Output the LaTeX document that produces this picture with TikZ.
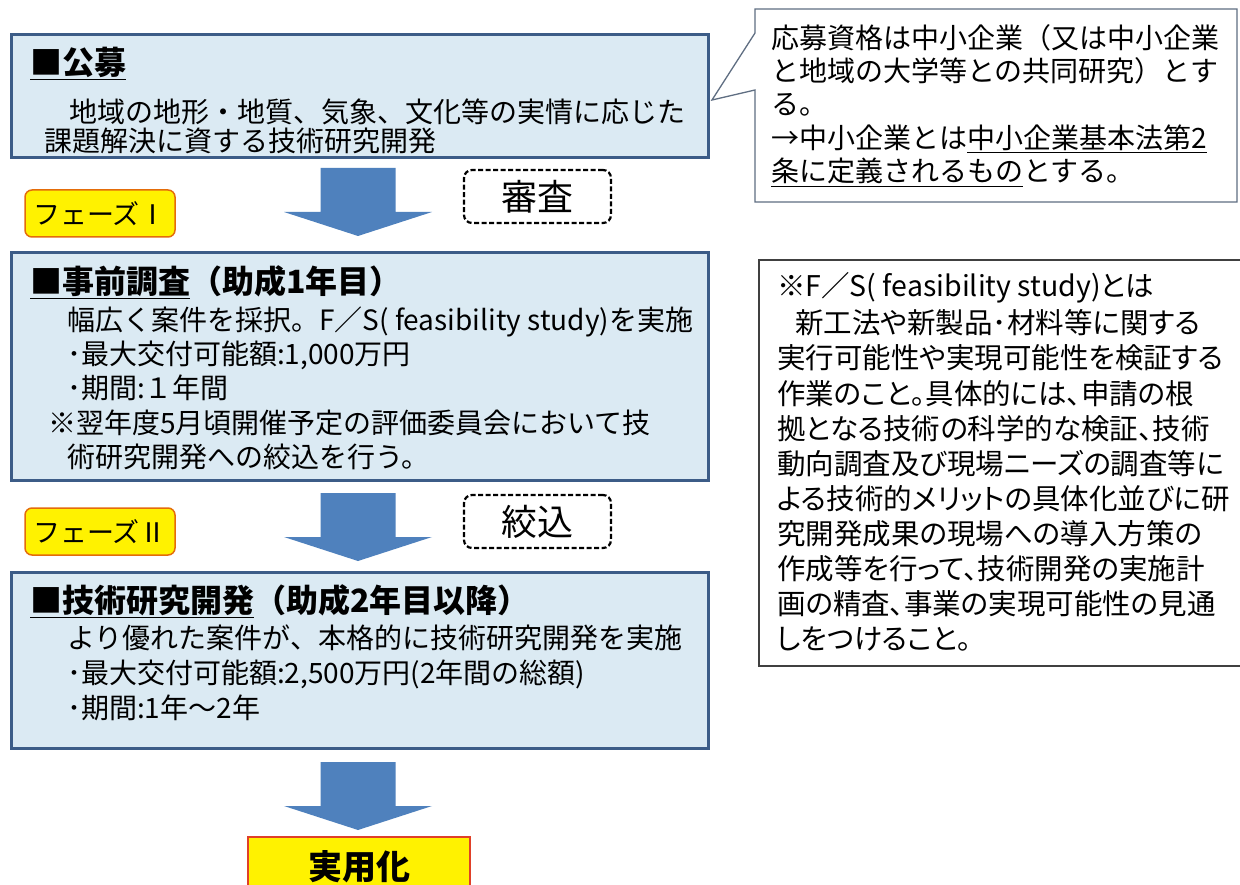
\documentclass[tikz,border=0pt]{standalone}
\usepackage{fontspec}
\setmainfont{Noto Sans CJK JP}
\newfontfamily\propjp{Noto Sans CJK JP}[RawFeature=+palt]
\definecolor{boxfill}{RGB}{219,234,243}
\definecolor{boxline}{RGB}{60,92,135}
\definecolor{arrowblue}{RGB}{79,129,189}
\definecolor{phaseline}{RGB}{228,108,10}
\definecolor{goalline}{RGB}{224,64,40}
\definecolor{calloutline}{RGB}{95,110,130}
\definecolor{noteline}{RGB}{64,64,64}
\newcommand\bodyfs{\fontsize{28}{34}\selectfont}
\newcommand\notefs{\propjp\fontsize{28.5}{34}\selectfont}
\newcommand\titlefs{\fontsize{32}{38}\selectfont\bfseries}
\newcommand\downblock[2]{%
  \fill[arrowblue] (#1-37.5,#2) -- (#1+37.5,#2) -- (#1+37.5,#2+44) -- (#1+74,#2+44)
    -- (#1,#2+68) -- (#1-74,#2+44) -- (#1-37.5,#2+44) -- cycle;}
\begin{document}
\begin{tikzpicture}[x=1pt,y=-1pt,
  stagebox/.style={draw=boxline, line width=3pt, fill=boxfill, anchor=north west, inner sep=0pt},
  txt/.style={anchor=base west, inner sep=0pt, font=\bodyfs},
  notetxt/.style={anchor=base west, inner sep=0pt, font=\notefs},
  ttl/.style={anchor=base west, inner sep=0pt, font=\titlefs},
  reviewbox/.style={draw=black, line width=2.2pt, dash pattern=on 5pt off 2.5pt, rounded corners=8pt,
    fill=white, minimum width=147pt, minimum height=53pt, font=\fontsize{36}{40}\selectfont, inner sep=0pt},
  phasebox/.style={draw=phaseline, line width=1.5pt, fill=yellow, rounded corners=7pt,
    minimum width=150pt, minimum height=47pt, font=\fontsize{27}{30}\selectfont, inner sep=0pt},
  goalbox/.style={draw=goalline, line width=1.5pt, fill=yellow, minimum width=222pt,
    minimum height=60pt, font=\fontsize{34}{38}\selectfont\bfseries, inner sep=0pt},
  callout/.style={draw=calloutline, line width=1.3pt, fill=white},
  notebox/.style={draw=noteline, line width=2pt, fill=white, anchor=north west, inner sep=0pt}
]
\useasboundingbox (0,0) rectangle (1240,885);
\fill[white] (0,0) rectangle (1240,885);

% callout
\draw[callout] (755,9) -- (1237,9) -- (1237,202) -- (755,202) -- (755,90) -- (712,100) -- (755,33) -- cycle;
\node[txt] (c1) at (771,49) {応募資格は中小企業（又は中小企業};
\node[txt] (c2) at (771,82) {と地域の大学等との共同研究）とす};
\node[txt] (c3) at (771,115) {る。};
\node[txt] (c4) at (771,149) {→中小企業とは\underline{中小企業基本法第2}};
\node[txt] (c5) at (771,182) {\underline{条に定義されるもの}とする。};

% stage boxes
\node[stagebox, minimum width=697pt, minimum height=123pt] (koubo) at (10,33) {};
\node[stagebox, minimum width=697pt, minimum height=228pt] (jizen) at (10,251) {};
\node[stagebox, minimum width=697pt, minimum height=176pt] (gijutsu) at (10,571) {};

% box 1 text
\node[ttl] (k1) at (30,75) {\underline{■公募}};
\node[txt] (k2) at (41,123) {　地域の地形・地質、気象、文化等の実情に応じた};
\node[txt] (k3) at (44,152) {課題解決に資する技術研究開発};

% box 2 text
\node[ttl] (j1) at (30,294) {\underline{■事前調査}（助成1年目）};
\node[txt] (j2) at (67,331) {幅広く案件を採択。F／S( feasibility study)を実施};
\node[txt] (j3) at (67,365) {･最大交付可能額:1,000万円};
\node[txt] (j4) at (67,399) {･期間:１年間};
\node[txt] (j5) at (48,433) {※翌年度5月頃開催予定の評価委員会において技};
\node[txt] (j6) at (67,467) {術研究開発への絞込を行う。};

% box 3 text
\node[ttl] (g1) at (30,612) {\underline{■技術研究開発}（助成2年目以降）};
\node[txt] (g2) at (67,648) {より優れた案件が、本格的に技術研究開発を実施};
\node[txt] (g3) at (67,683) {･最大交付可能額:2,500万円(2年間の総額)};
\node[txt] (g4) at (67,718) {･期間:1年〜2年};

% arrows
\downblock{358}{168}
\downblock{358}{493}
\downblock{358}{762}

% review labels
\node[reviewbox] (shinsa) at (537.5,196.5) {審査};
\node[reviewbox] (shibori) at (537.5,521.5) {絞込};

% phase labels
\node[phasebox] (phase1) at (100,213.5) {フェーズⅠ};
\node[phasebox] (phase2) at (100,531.5) {フェーズⅡ};

% goal
\node[goalbox] (goal) at (359,867) {実用化};

% F/S note
\node[notebox, minimum width=484pt, minimum height=406pt] (fsnote) at (758,259) {};
\node[notetxt] (n1) at (777,297) {※F／S( feasibility study)とは};
\node[notetxt] (n2) at (795,334) {新工法や新製品･材料等に関する};
\node[notetxt] (n3) at (777,369) {実行可能性や実現可能性を検証する};
\node[notetxt] (n4) at (777,404) {作業のこと。具体的には、申請の根};
\node[notetxt] (n5) at (777,439) {拠となる技術の科学的な検証、技術};
\node[notetxt] (n6) at (777,474) {動向調査及び現場ニーズの調査等に};
\node[notetxt] (n7) at (777,509) {よる技術的メリットの具体化並びに研};
\node[notetxt] (n8) at (777,544) {究開発成果の現場への導入方策の};
\node[notetxt] (n9) at (777,579) {作成等を行って、技術開発の実施計};
\node[notetxt] (n10) at (777,614) {画の精査、事業の実現可能性の見通};
\node[notetxt] (n11) at (777,649) {しをつけること。};
\end{tikzpicture}
\end{document}
